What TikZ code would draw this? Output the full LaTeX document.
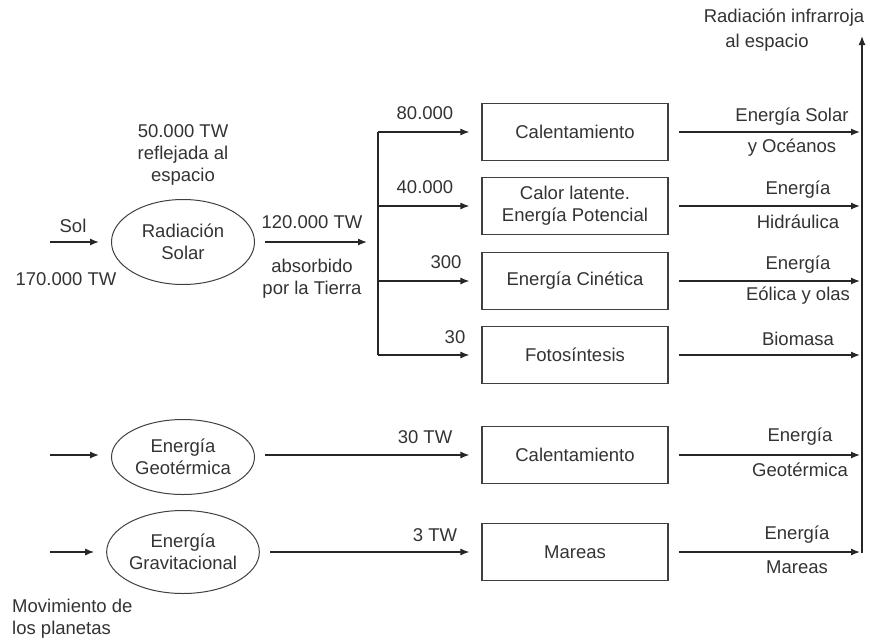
\documentclass[tikz,border=0pt]{standalone}
\usepackage{fontspec}
\setmainfont{Liberation Sans}
\usetikzlibrary{arrows.meta,shapes.geometric}
\begin{document}
\begin{tikzpicture}[x=1pt,y=-1pt,
  every node/.style={font=\fontsize{18.5}{22}\selectfont, text=black!80},
  flow/.style={draw=black!85, line width=1.3pt, -{Latex[length=9pt,width=7pt]}},
  stage/.style={draw=black!75, line width=1.1pt, minimum width=186pt, minimum height=57pt, inner sep=0pt, align=center},
  source/.style={ellipse, draw=black!75, line width=1pt, minimum width=143pt, inner sep=0pt, align=center},
  lbl/.style={inner sep=0pt, align=center}]
\useasboundingbox (0,0) rectangle (870,640);

% sources
\node[source, minimum height=85pt] (rs) at (183,242) {Radiación\\Solar};
\node[source, minimum height=75pt] (geo) at (183,457) {Energía\\Geotérmica};
\node[source, minimum height=83pt] (grav) at (183,552) {Energía\\Gravitacional};

% conversion stages
\node[stage] (b1) at (575,132) {Calentamiento};
\node[stage] (b2) at (575,206) {Calor latente.\\Energía Potencial};
\node[stage] (b3) at (575,281) {Energía Cinética};
\node[stage] (b4) at (575,355) {Fotosíntesis};
\node[stage] (b5) at (575,455) {Calentamiento};
\node[stage] (b6) at (575,552) {Mareas};

% free ends and junctions
\coordinate (solin) at (50,242);
\coordinate (geoin) at (50,455);
\coordinate (gravin) at (50,552);
\coordinate (abs) at (367,242);
\coordinate (j1) at (378,132);
\coordinate (j2) at (378,206);
\coordinate (j3) at (378,281);
\coordinate (j4) at (378,355);
\coordinate (irtop) at (862,36);
\coordinate (irbase) at (862,553);

% inputs
\draw[flow, shorten >=12pt] (solin) -- (rs.west);
\draw[flow, shorten >=12pt] (geoin) -- (geoin -| geo.west);
\draw[flow, shorten >=12pt] (gravin) -- (grav.west);

% solar split
\draw[flow, shorten <=10pt] (rs.east) -- (abs);
\draw[draw=black!85, line width=1.3pt] (j1) -- (j4);
\draw[flow, shorten >=12pt] (j1) -- (b1.west);
\draw[flow, shorten >=12pt] (j2) -- (b2.west);
\draw[flow, shorten >=12pt] (j3) -- (b3.west);
\draw[flow, shorten >=12pt] (j4) -- (b4.west);

% geothermal and gravitational flows
\draw[flow, shorten <=10pt, shorten >=12pt] (geo.east |- b5.west) -- (b5.west);
\draw[flow, shorten <=10pt, shorten >=12pt] (grav.east) -- (b6.west);

% outputs into the infrared collector
\draw[flow] (irbase) -- (irtop);
\foreach \b in {b1,b2,b3,b4,b5,b6}
  \draw[flow, shorten <=10pt, shorten >=2pt] (\b.east) -- (\b.east -| irtop);

% labels
\node[lbl] (tsol) at (73,226) {Sol};
\node[lbl] (tsolw) at (66,279) {170.000 TW};
\node[lbl] (trefl) at (183,155) {50.000 TW\\reflejada al\\espacio};
\node[lbl] (tabsw) at (312,222) {120.000 TW};
\node[lbl] (tabs) at (312,279) {absorbido\\por la Tierra};
\node[lbl] (t1) at (425,113) {80.000};
\node[lbl] (t2) at (425,187) {40.000};
\node[lbl] (t3) at (446,262) {300};
\node[lbl] (t4) at (455,337) {30};
\node[lbl] (t5) at (425,437) {30 TW};
\node[lbl] (t6) at (435,535) {3 TW};

\node[lbl] (o1a) at (792,117) {Energía Solar};
\node[lbl] (o1b) at (792,148) {y Océanos};
\node[lbl] (o2a) at (798,190) {Energía};
\node[lbl] (o2b) at (798,222) {Hidráulica};
\node[lbl] (o3a) at (798,265) {Energía};
\node[lbl] (o3b) at (798,296) {Eólica y olas};
\node[lbl] (o4a) at (798,339) {Biomasa};
\node[lbl] (o5a) at (800,437) {Energía};
\node[lbl] (o5b) at (800,470) {Geotérmica};
\node[lbl] (o6a) at (797,535) {Energía};
\node[lbl] (o6b) at (797,567) {Mareas};

\node[lbl] (ira) at (784,18) {Radiación infrarroja};
\node[lbl] (irb) at (767,43) {al espacio};

\node[lbl, align=left, anchor=west] (mov) at (12,619) {Movimiento de\\los planetas};
\end{tikzpicture}
\end{document}
